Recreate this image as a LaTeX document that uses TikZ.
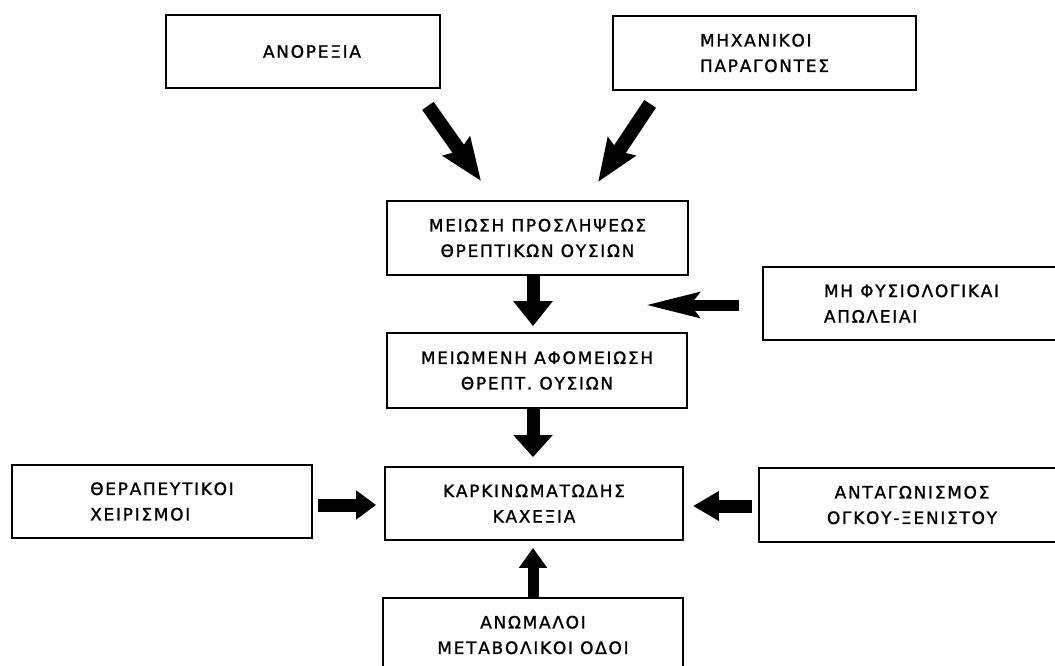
\documentclass[tikz,border=0pt]{standalone}
\usepackage{fontspec}
\newfontfamily\grfont[LetterSpace=10,FakeBold=1.2]{DejaVu Sans}
\usetikzlibrary{arrows.meta}
\tikzset{
  box/.style={draw=black, line width=1.8pt, rectangle, inner sep=0pt,
    font=\grfont\fontsize{17}{25.5}\selectfont, text=black},
  fat/.style args={#1/#2/#3}{draw=black, line width=#1,
    -{Triangle[length=#2, width=#3]}},
  barb/.style args={#1/#2/#3/#4}{draw=black, line width=#1,
    -{Stealth[length=#2, width=#3, inset=#4]}}
}
\begin{document}
\begin{tikzpicture}[x=1pt, y=-1pt]
\useasboundingbox (0,0) rectangle (1055,666);
\fill[white] (0,0) rectangle (1055,666);
\clip (0,0) rectangle (1055,666);

% boxes
\node[box, minimum width=274pt, minimum height=73pt, align=center] (anor) at (303,51.5) {\hspace*{18pt}ΑΝΟΡΕΞΙΑ};
\node[box, minimum width=303pt, minimum height=74pt, align=left] (mech) at (764.5,53) {ΜΗΧΑΝΙΚΟΙ\\ΠΑΡΑΓΟΝΤΕΣ};
\node[box, minimum width=301pt, minimum height=74pt, align=center] (meiosi) at (537.5,238) {ΜΕΙΩΣΗ ΠΡΟΣΛΗΨΕΩΣ\\ΘΡΕΠΤΙΚΩΝ ΟΥΣΙΩΝ};
\node[box, minimum width=297pt, minimum height=73pt, align=left] (physio) at (911.5,303.5) {ΜΗ ΦΥΣΙΟΛΟΓΙΚΑΙ\\ΑΠΩΛΕΙΑΙ};
\node[box, minimum width=300pt, minimum height=75pt, align=center] (meiom) at (537,370.5) {ΜΕΙΩΜΕΝΗ ΑΦΟΜΕΙΩΣΗ\\ΘΡΕΠΤ. ΟΥΣΙΩΝ};
\node[box, minimum width=298pt, minimum height=73pt, align=center] (kark) at (534,503.5) {ΚΑΡΚΙΝΩΜΑΤΩΔΗΣ\\ΚΑΧΕΞΙΑ};
\node[box, minimum width=300pt, minimum height=73pt, align=left] (therap) at (162,501.5) {ΘΕΡΑΠΕΥΤΙΚΟΙ\\ΧΕΙΡΙΣΜΟΙ};
\node[box, minimum width=306pt, minimum height=74pt, align=center] (antag) at (912,505) {ΑΝΤΑΓΩΝΙΣΜΟΣ\\ΟΓΚΟΥ-ΞΕΝΙΣΤΟΥ};
\node[box, minimum width=300pt, minimum height=74pt, align=center] (anom) at (533,635) {ΑΝΩΜΑΛΟΙ\\ΜΕΤΑΒΟΛΙΚΟΙ ΟΔΟΙ};

\coordinate (lossTip) at (645,305);

% arrows
\draw[barb=14pt/42pt/32pt/5pt] ([xshift=-13pt,yshift=-17pt]anor.south east) -- ([xshift=95pt,yshift=19pt]meiosi.north west);
\draw[barb=14pt/42pt/32pt/5pt] ([xshift=38pt,yshift=-13pt]mech.south west) -- ([xshift=60.5pt,yshift=18pt]meiosi.north);
\draw[fat=13pt/25pt/38pt] ([xshift=-4.5pt]meiosi.south) -- ([xshift=-4pt,yshift=6pt]meiom.north);
\draw[barb=11pt/53pt/24pt/8pt] ([xshift=-23pt,yshift=-1.5pt]physio.west) -- (lossTip);
\draw[fat=13pt/22pt/38pt] ([xshift=-4pt]meiom.south) -- ([xshift=-1pt,yshift=9pt]kark.north);
\draw[fat=13pt/20pt/28pt] ([xshift=5pt,yshift=-3.5pt]therap.east) -- ([xshift=-8pt,yshift=-1.5pt]kark.west);
\draw[fat=13pt/26pt/28pt] ([xshift=-6pt,yshift=-1pt]antag.west) -- ([xshift=9pt,yshift=-2.5pt]kark.east);
\draw[fat=11pt/20pt/27pt] (anom.north) -- ([xshift=-1pt,yshift=-7pt]kark.south);
\end{tikzpicture}
\end{document}
